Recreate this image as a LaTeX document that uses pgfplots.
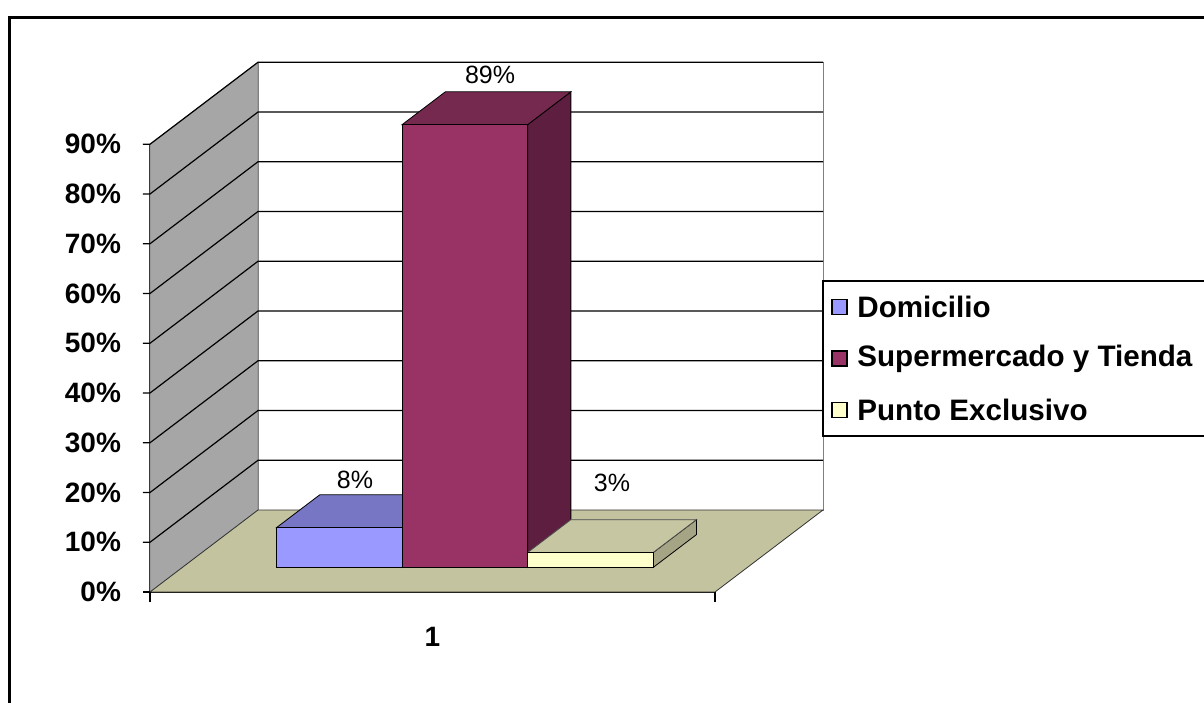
\documentclass[border=0pt]{standalone}
\usepackage{pgfplots}
\pgfplotsset{compat=1.18}
\usepackage{fontspec}
\setmainfont{Liberation Sans}

% wall, floor and bar shades (front / top / side)
\definecolor{wallgray}{HTML}{A6A6A6}
\definecolor{floorol}{HTML}{C3C3A0}
\definecolor{blueF}{HTML}{9999FF}
\definecolor{blueT}{HTML}{7676C4}
\definecolor{blueS}{HTML}{5C5C99}
\definecolor{redF}{HTML}{993366}
\definecolor{redT}{HTML}{76294F}
\definecolor{redS}{HTML}{5E1E3F}
\definecolor{yelF}{HTML}{FFFFCC}
\definecolor{yelT}{HTML}{C6C6A2}
\definecolor{yelS}{HTML}{A5A585}

\begin{document}
\begin{tikzpicture}
\begin{axis}[
  % oblique projection: x = category, y = depth, z = percentage
  x={(282.5pt,0pt)}, y={(54pt,41pt)}, z={(0pt,2.4875pt)},
  xmin=0, xmax=1, ymin=0, ymax=1, zmin=0, zmax=90,
  clip=false,
  axis lines=left,
  axis line style={-, black, line width=0.8pt},
  every inner x axis line/.append style={-},
  every inner y axis line/.append style={-},
  every inner z axis line/.append style={-},
  y axis line style={draw=none},
  ytick=\empty,
  ztick={0,10,...,90},
  zticklabels={0\%,10\%,20\%,30\%,40\%,50\%,60\%,70\%,80\%,90\%},
  xtick={0.5}, xticklabels={1},
  major tick length=0pt,
  tick style={draw=none},
  ticklabel style={font=\fontsize{14}{17}\selectfont\bfseries},
  zticklabel style={anchor=east, xshift=-11pt},
  xticklabel style={anchor=north, yshift=-14pt},
]
% walls and floor
\addplot3[fill=wallgray, draw=gray, forget plot] coordinates {(0,0,0) (0,1,0) (0,1,90) (0,0,90)} -- cycle;
\addplot3[fill=white, draw=gray, forget plot] coordinates {(0,1,0) (1,1,0) (1,1,90) (0,1,90)} -- cycle;
\addplot3[fill=floorol, draw=black!80, forget plot] coordinates {(0,0,0) (1,0,0) (1,1,0) (0,1,0)} -- cycle;
% tick marks on the value axis and at the category edges
\addplot3[black, line width=0.6pt, forget plot] coordinates {(-0.0124,0,0) (0,0,0)};
\addplot3[black, line width=0.6pt, forget plot] coordinates {(0,0,0) (0,0,-2)};
\addplot3[black, line width=0.6pt, forget plot] coordinates {(1,0,0) (1,0,-2)};
% grid lines on side and back walls, each with its tick
\pgfplotsinvokeforeach{10,20,...,90}{
  \addplot3[black, line width=0.6pt, forget plot] coordinates {(-0.0124,0,#1) (0,0,#1) (0,1,#1) (1,1,#1)};
}

% Domicilio: 8%
\addplot3[fill=blueS, draw=black, forget plot] coordinates {(0.38889,0.3,0) (0.38889,0.7,0) (0.38889,0.7,8) (0.38889,0.3,8)} -- cycle;
\addplot3[fill=blueT, draw=black, forget plot] coordinates {(0.16667,0.3,8) (0.38889,0.3,8) (0.38889,0.7,8) (0.16667,0.7,8)} -- cycle;
\addplot3[fill=blueF, draw=black, forget plot] coordinates {(0.16667,0.3,0) (0.38889,0.3,0) (0.38889,0.3,8) (0.16667,0.3,8)} -- cycle;
% Supermercado y Tienda: 89%
\addplot3[fill=redS, draw=black, forget plot] coordinates {(0.61111,0.3,0) (0.61111,0.7,0) (0.61111,0.7,89) (0.61111,0.3,89)} -- cycle;
\addplot3[fill=redT, draw=black, forget plot] coordinates {(0.38889,0.3,89) (0.61111,0.3,89) (0.61111,0.7,89) (0.38889,0.7,89)} -- cycle;
\addplot3[fill=redF, draw=black, forget plot] coordinates {(0.38889,0.3,0) (0.61111,0.3,0) (0.61111,0.3,89) (0.38889,0.3,89)} -- cycle;
% Punto Exclusivo: 3%
\addplot3[fill=yelS, draw=black, forget plot] coordinates {(0.83333,0.3,0) (0.83333,0.7,0) (0.83333,0.7,3) (0.83333,0.3,3)} -- cycle;
\addplot3[fill=yelT, draw=black!70, forget plot] coordinates {(0.61111,0.3,3) (0.83333,0.3,3) (0.83333,0.7,3) (0.61111,0.7,3)} -- cycle;
\addplot3[fill=yelF, draw=black, forget plot] coordinates {(0.61111,0.3,0) (0.83333,0.3,0) (0.83333,0.3,3) (0.61111,0.3,3)} -- cycle;

% value labels
\node[font=\fontsize{12.5}{15}\selectfont] at (axis cs:0.229,0.7,10.95) {8\%};
\node[font=\fontsize{12.5}{15}\selectfont] at (axis cs:0.468,0.7,92.4) {89\%};
\node[font=\fontsize{12.5}{15}\selectfont] at (axis cs:0.684,0.7,10.4) {3\%};

\coordinate (O) at (axis cs:0,0,0);
\end{axis}

% page frame and legend, in pixel units measured from the top-left corner
\begin{scope}[shift={(O)}, x=0.5pt, y=-0.5pt, shift={(-150,-592)}]
  \draw[line width=1.5pt] (10,720) -- (10,18) -- (1220,18);
  \draw[line width=1pt] (1220,281) -- (823,281) -- (823,436) -- (1220,436);
  \foreach \c/\t [count=\i] in {blueF/Domicilio, redF/Supermercado y Tienda, yelF/Punto Exclusivo}{
    \pgfmathsetmacro{\yy}{307+(\i-1)*51.5}
    \filldraw[fill=\c, draw=black, line width=0.9pt] (832,\yy-7.5) rectangle (847,\yy+7.5);
    \node[anchor=west, inner sep=0pt, font=\fontsize{14.8}{17}\selectfont\bfseries] at (857,\yy) {\t};
  }
  \pgfresetboundingbox
  \path[use as bounding box] (0,0) rectangle (1204,702);
\end{scope}
\end{tikzpicture}
\end{document}
